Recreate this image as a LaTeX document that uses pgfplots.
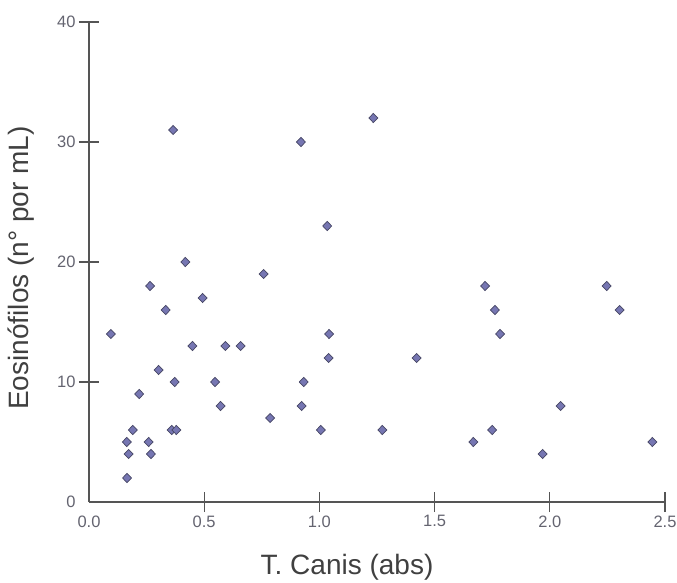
\documentclass[border=0pt]{standalone}
\usepackage{fontspec}
\setmainfont{Liberation Sans}
\usepackage{pgfplots}
\pgfplotsset{compat=1.18}

\definecolor{axisgray}{RGB}{85,85,85}
\definecolor{ticktext}{RGB}{100,100,112}
\definecolor{labeltext}{RGB}{64,64,64}
\definecolor{markfill}{RGB}{118,118,178}
\definecolor{markedge}{RGB}{70,70,100}

\begin{document}
\begin{tikzpicture}[x=1pt,y=1pt]
\useasboundingbox (-89,-81) rectangle (588,502);
\begin{axis}[
  at={(0,0)}, anchor=origin,
  scale only axis,
  width=576pt, height=480pt,
  xmin=0, xmax=2.5, ymin=0, ymax=40,
  axis x line*=bottom, axis y line*=left,
  axis line style={axisgray, line width=1.3pt, -},
  xtick={0.5,1.0,1.5,2.0,2.5},
  ytick={10,20,30,40},
  extra x ticks={0}, extra y ticks={0},
  extra tick style={major tick length=0pt},
  extra x tick style={xticklabel style={yshift=-10pt}},
  extra y tick style={yticklabel style={xshift=-10pt}},
  tick align=center,
  major tick length=20pt,
  tick style={axisgray, line width=1.2pt},
  xticklabel={\pgfmathprintnumber[fixed,fixed zerofill,precision=1]{\tick}},
  yticklabel={\pgfmathprintnumber[fixed,precision=0]{\tick}},
  /pgf/number format/assume math mode=true,
  ticklabel style={font=\fontsize{16.5}{18}\selectfont, text=ticktext},
  xlabel={T. Canis (abs)},
  ylabel={Eosinófilos (n° por mL)},
  label style={font=\fontsize{28}{32}\selectfont, text=labeltext},
  xlabel style={at={(axis description cs:0.448,-0.135)}, anchor=center},
  ylabel style={at={(axis description cs:-0.118,0.4875)}, anchor=center},
  clip=false,
]
\addplot[only marks, mark=diamond*, mark size=4.6pt,
  mark options={fill=markfill, draw=markedge, line width=0.7pt, xscale=1.3}]
coordinates {
(0.095,14) (0.265,18) (0.493,17) (0.333,16) (0.449,13) (0.592,13)
(0.658,13) (0.302,11) (0.372,10) (0.547,10) (0.932,10) (0.218,9)
(0.571,8) (0.923,8) (0.786,7) (0.190,6) (0.359,6) (0.379,6)
(1.006,6) (0.164,5) (0.259,5) (0.172,4) (0.269,4) (0.165,2)
(1.042,14) (1.040,12) (0.365,31) (0.920,30) (1.034,23) (0.418,20)
(0.758,19) (1.234,32) (1.719,18) (2.247,18) (1.762,16) (2.303,16)
(1.784,14) (1.422,12) (2.047,8) (1.273,6) (1.750,6) (1.668,5)
(2.445,5) (1.969,4)
};
\end{axis}
\end{tikzpicture}
\end{document}
